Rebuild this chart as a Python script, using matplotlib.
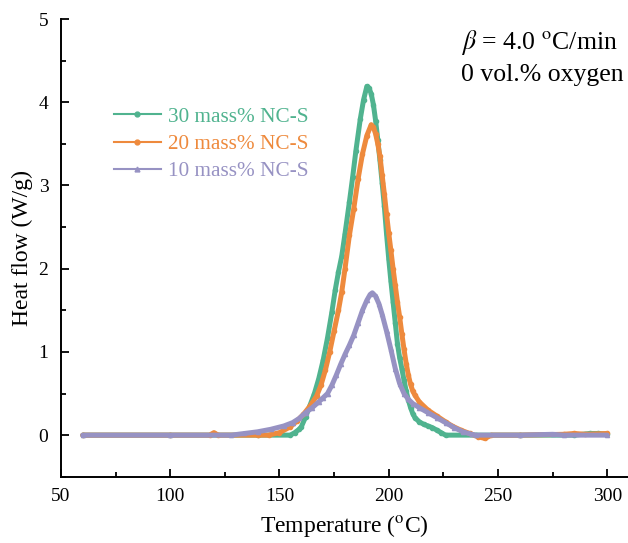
import matplotlib
matplotlib.use("Agg")
import matplotlib.pyplot as plt
from matplotlib.lines import Line2D
from matplotlib.ticker import MultipleLocator

plt.rcParams.update({
    "font.family": "Liberation Serif",
    "mathtext.fontset": "stix",
    "axes.linewidth": 1.4,
})

# ── data ───────────────────────────────────────────────────────────────────
t30 = [60, 100, 140, 155, 157, 159, 160, 162, 164, 166, 168, 170, 172, 174,
       175.5, 177, 178.5, 180, 182, 183.5, 185, 187, 188.5, 190, 191, 192,
       193, 194, 195, 196, 197, 198, 199, 200, 201, 202, 203, 204, 205, 206,
       207, 208, 209, 210, 211, 212, 214, 216, 218, 220, 222, 224, 226, 240,
       260, 285, 292, 296, 300]
h30 = [0, 0, 0, 0, 0.03, 0.07, 0.10, 0.22, 0.36, 0.50, 0.68, 0.90, 1.17, 1.48,
       1.74, 1.96, 2.15, 2.42, 2.80, 3.10, 3.42, 3.80, 4.03, 4.19, 4.17, 4.10,
       3.97, 3.78, 3.55, 3.30, 3.03, 2.75, 2.42, 2.12, 1.85, 1.60, 1.35, 1.10,
       0.93, 0.80, 0.66, 0.53, 0.42, 0.33, 0.26, 0.21, 0.16, 0.13, 0.11, 0.09,
       0.06, 0.03, 0, 0, 0, 0, 0.02, 0.02, 0.01]

t20 = [60, 100, 118, 120, 122, 140, 145, 150, 155, 158, 161, 164, 167, 169,
       171, 173, 175, 177, 178.5, 180, 182, 184, 186, 188, 190, 192, 193, 194,
       195, 196, 197, 198, 199, 200, 201, 202, 203, 204, 205, 206, 207, 208,
       209, 210, 211, 212, 214, 218, 222, 226, 229, 233, 237, 241, 244, 247,
       260, 280, 285, 290, 300]
h20 = [0, 0, 0, 0.03, 0, 0, 0, 0.03, 0.10, 0.17, 0.25, 0.35, 0.47, 0.60,
       0.78, 1.00, 1.25, 1.50, 1.72, 2.00, 2.40, 2.72, 3.08, 3.38, 3.60, 3.73,
       3.70, 3.62, 3.50, 3.35, 3.12, 2.90, 2.66, 2.43, 2.22, 2.00, 1.80, 1.60,
       1.42, 1.22, 1.03, 0.86, 0.72, 0.61, 0.53, 0.48, 0.40, 0.30, 0.23, 0.16,
       0.11, 0.06, 0.02, -0.02, -0.04, 0, 0, 0.01, 0.02, 0.01, 0.02]

t10 = [60, 100, 128, 134, 140, 146, 152, 156, 159, 162, 165, 168, 170, 172,
       174, 176, 178, 180, 182, 184, 186, 188, 190, 191.5, 192.5, 194, 195.5,
       197, 199, 201, 203, 205, 207, 209, 211, 214, 218, 222, 226, 230, 234,
       238, 240, 260, 275, 280, 300]
h10 = [0, 0, 0, 0.02, 0.04, 0.07, 0.11, 0.15, 0.20, 0.27, 0.33, 0.40, 0.45,
       0.50, 0.60, 0.72, 0.85, 0.97, 1.08, 1.20, 1.35, 1.50, 1.62, 1.69, 1.71,
       1.67, 1.58, 1.45, 1.25, 1.03, 0.80, 0.62, 0.50, 0.43, 0.38, 0.33, 0.27,
       0.21, 0.15, 0.09, 0.04, 0.01, 0, 0, 0.01, 0, 0]

labels = ["30 mass% NC-S", "20 mass% NC-S", "10 mass% NC-S"]
GREEN = "#50B38F"; ORANGE = "#EE8A3D"; PURPLE = "#9792C3"
colors = [GREEN, ORANGE, PURPLE]
markers = ["o", "o", "^"]

fig = plt.figure(figsize=(6.28, 5.43), dpi=100)
ax = fig.add_axes([0.097, 0.122, 0.903, 0.843])

for t, h, c, m in zip([t30, t20, t10], [h30, h20, h10], colors, markers):
    ax.plot(t, h, color=c, lw=3.6, marker=m, ms=3.0, mec=c, mfc=c,
            solid_capstyle="round", solid_joinstyle="round")

ax.set_xlim(50, 309.5)
ax.set_ylim(-0.5, 5)
ax.xaxis.set_major_locator(MultipleLocator(50))
ax.xaxis.set_minor_locator(MultipleLocator(25))
ax.yaxis.set_major_locator(MultipleLocator(1))
ax.yaxis.set_minor_locator(MultipleLocator(0.5))
ax.tick_params(which="both", direction="in", width=1.3, labelsize=14)
ax.tick_params(which="major", length=6)
ax.tick_params(which="minor", length=3.5)
ax.tick_params(axis="x", pad=8)
ax.tick_params(axis="y", pad=9)
ax.spines[["top", "right"]].set_visible(False)

ax.set_xlabel("Temperature ($^{\\rm o}$C)", fontsize=17, labelpad=6)
ax.set_ylabel("Heat flow (W/g)", fontsize=17, labelpad=4)

# legend with thin handles
handles = [Line2D([], [], color=c, lw=1.5, marker=m, ms=3.5)
           for c, m in zip(colors, markers)]
leg = ax.legend(handles, labels, loc="upper left", bbox_to_anchor=(0.06, 0.85),
                frameon=False, fontsize=15.3, handlelength=2.2, handletextpad=0.35,
                labelspacing=0.35)
for txt, c in zip(leg.get_texts(), colors):
    txt.set_color(c)

ax.text(0.705, 0.948, "$\\beta$ = 4.0 $^{\\rm o}$C/min", transform=ax.transAxes,
        fontsize=18.5, va="center", ha="left")
ax.text(0.705, 0.878, "0 vol.% oxygen", transform=ax.transAxes,
        fontsize=18.5, va="center", ha="left")

fig.savefig("out.png", dpi=100)
